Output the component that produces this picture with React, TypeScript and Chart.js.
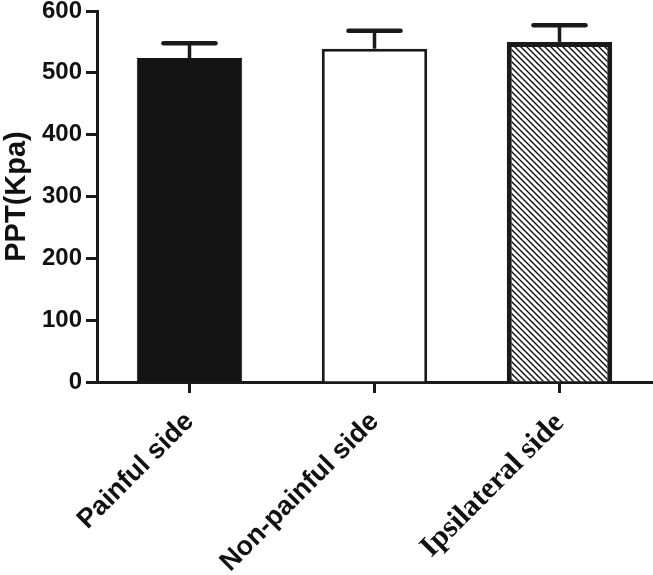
import React, { useEffect, useRef } from "react";
import { Chart, registerables } from "chart.js";
Chart.register(...registerables);

const categories = ["Painful side", "Non-painful side", "Ipsilateral side"];
const meanValues = [524, 539, 550];
const errorValues = [24, 29, 27];
const yMin = 0;
const yMax = 600;
const yStep = 100;
const yTitle = "PPT(Kpa)";

function makeHatch(): CanvasPattern | string {
  const s = 6;
  const c = document.createElement("canvas");
  c.width = s;
  c.height = s;
  const g = c.getContext("2d");
  if (!g) return "#fff";
  g.fillStyle = "#fff";
  g.fillRect(0, 0, s, s);
  g.strokeStyle = "#111";
  g.lineWidth = 1.4;
  g.beginPath();
  g.moveTo(-1, -1);
  g.lineTo(s + 1, s + 1);
  g.moveTo(-1, s - 1);
  g.lineTo(1, s + 1);
  g.moveTo(s - 1, -1);
  g.lineTo(s + 1, 1);
  g.stroke();
  return g.createPattern(c, "repeat") || "#fff";
}

const errorBarPlugin = {
  id: "errorBars",
  afterDatasetsDraw(chart: any) {
    const meta = chart.getDatasetMeta(0);
    const y = chart.scales.y;
    const ctx = chart.ctx;
    ctx.save();
    ctx.strokeStyle = "#1a1a1a";
    meta.data.forEach((bar: any, i: number) => {
      const x = bar.x;
      const yBar = y.getPixelForValue(meanValues[i]);
      const yTop = y.getPixelForValue(meanValues[i] + errorValues[i]);
      ctx.lineCap = "butt";
      ctx.lineWidth = 3.5;
      ctx.beginPath();
      ctx.moveTo(x, yBar);
      ctx.lineTo(x, yTop);
      ctx.stroke();
      ctx.lineCap = "round";
      ctx.lineWidth = 4.5;
      ctx.beginPath();
      ctx.moveTo(x - 26, yTop);
      ctx.lineTo(x + 26, yTop);
      ctx.stroke();
    });
    ctx.restore();
  },
};

export default function App() {
  const ref = useRef<HTMLCanvasElement | null>(null);
  useEffect(() => {
    if (!ref.current) return;
    const hatch = makeHatch();
    const chart = new Chart(ref.current, {
      type: "bar",
      data: {
        labels: categories,
        datasets: [
          {
            data: meanValues,
            backgroundColor: ["#141414", "#ffffff", hatch as any],
            borderColor: ["#141414", "#1a1a1a", "#1a1a1a"],
            borderWidth: [1, 3, 5],
            borderSkipped: "start",
            barPercentage: 0.57,
            categoryPercentage: 1,
          },
        ],
      },
      options: {
        animation: false,
        responsive: true,
        maintainAspectRatio: false,
        layout: { padding: { top: 11, right: 1, left: 0, bottom: 0 } },
        plugins: { legend: { display: false }, tooltip: { enabled: false } },
        scales: {
          x: {
            offset: true,
            afterFit(scale: any) {
              scale.height = 193;
              scale.paddingLeft = 0;
              scale.paddingRight = 0;
            },
            grid: {
              offset: false,
              drawOnChartArea: false,
              drawTicks: true,
              tickLength: 11,
              tickWidth: 3,
              tickColor: "#1a1a1a",
            },
            border: { display: true, width: 3, color: "#1a1a1a" },
            ticks: {
              minRotation: 45,
              maxRotation: 45,
              padding: 13,
              color: "#111",
              font: (ctx: any) =>
                ctx.index === 2
                  ? { family: "'Times New Roman', 'Liberation Serif', serif", weight: "bold", size: 30 }
                  : { family: "Arial, 'Liberation Sans', sans-serif", weight: "bold", size: 27 },
            },
          },
          y: {
            min: yMin,
            max: yMax,
            afterFit(scale: any) {
              scale.width = 97;
              scale.paddingTop = 0;
              scale.paddingBottom = 0;
            },
            grid: {
              drawOnChartArea: false,
              drawTicks: true,
              tickLength: 11,
              tickWidth: 3,
              tickColor: "#1a1a1a",
            },
            border: { display: true, width: 3, color: "#1a1a1a" },
            ticks: {
              stepSize: yStep,
              padding: 4,
              color: "#111",
              font: { family: "Arial, 'Liberation Sans', sans-serif", weight: "bold", size: 24 },
            },
            title: {
              display: true,
              text: yTitle,
              color: "#111",
              padding: { top: 0, bottom: 0 },
              font: { family: "Arial, 'Liberation Sans', sans-serif", weight: "bold", size: 29 },
            },
          },
        },
      },
      plugins: [errorBarPlugin],
    });
    return () => chart.destroy();
  }, []);
  return (
    <div style={{ position: "fixed", left: 0, top: 0, width: 653, height: 575, background: "#fff" }}>
      <canvas ref={ref} />
    </div>
  );
}
